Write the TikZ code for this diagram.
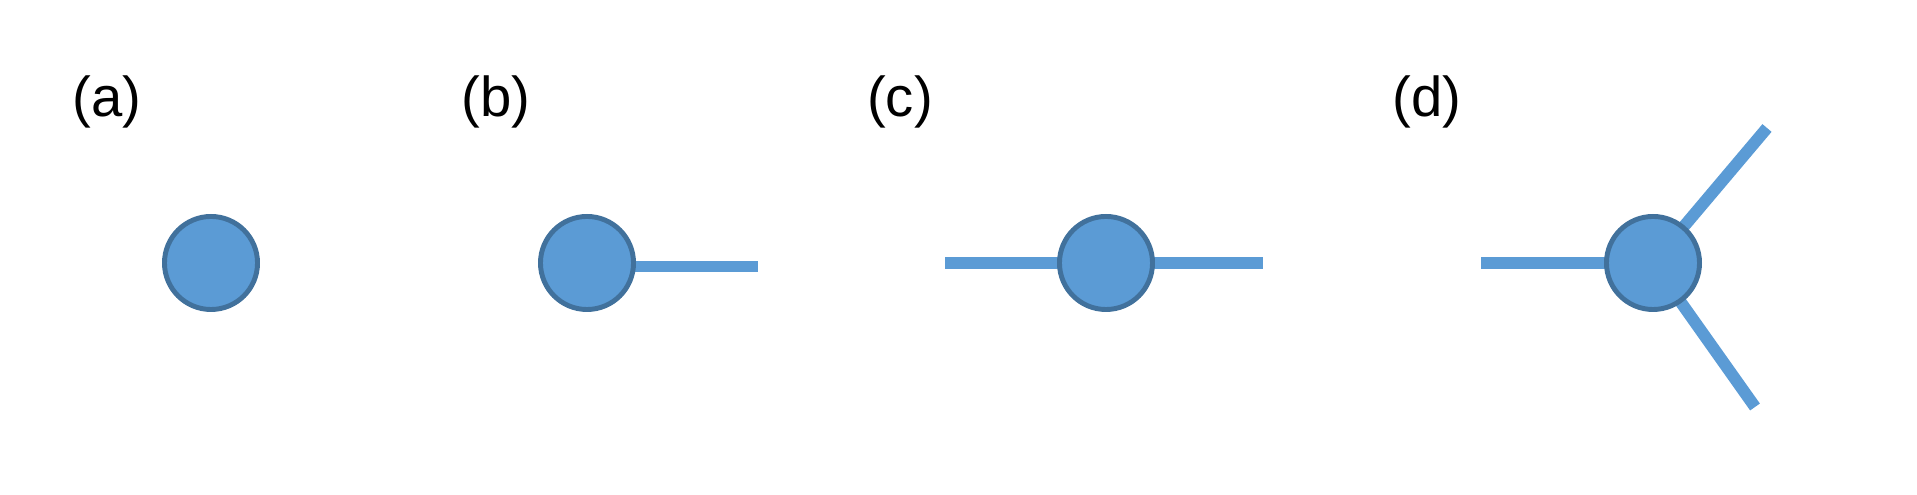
\documentclass[tikz,border=0pt]{standalone}
\usepackage{fontspec}
\setmainfont{Liberation Sans}
\usepackage{xcolor}
\definecolor{vertexfill}{HTML}{5B9BD5}
\definecolor{vertexedge}{HTML}{41719C}
\usetikzlibrary{positioning,calc,backgrounds}

\begin{document}
\begin{tikzpicture}[x=0.01cm, y=0.01cm,
    vertex/.style={circle, fill=vertexfill, draw=vertexedge, line width=1.4pt, minimum size=0.93cm, inner sep=0pt},
    leg/.style={vertexfill, line width=3.4pt},
    tag/.style={font=\fontsize{16}{19}\selectfont, text=black}]
        \useasboundingbox (0,0) rectangle (1917,495);
        \node[tag] (taga) at (107,393) {(a)};
        \node[tag] (tagb) at (496,393) {(b)};
        \node[tag] (tagc) at (900,393) {(c)};
        \node[tag] (tagd) at (1427,393) {(d)};
        \node[vertex] (va) at (211,232) {};
        \node[vertex] (vb) at (587,232) {};
        \node[vertex] (vc) at (1106,232) {};
        \node[vertex] (vd) at (1653,232) {};
        \coordinate (bright) at (758,228.5);
        \coordinate (cleft) at (945,232);
        \coordinate (cright) at (1263,232);
        \coordinate (dleft) at (1481,232);
        \coordinate (dup) at (1767,367);
        \coordinate (ddown) at (1755,88);
        \begin{scope}[on background layer]
          \draw[leg] (vb.center |- bright) -- (bright);
          \draw[leg] (vc.center) -- (cleft);
          \draw[leg] (vc.center) -- (cright);
          \draw[leg] (vd.center) -- (dleft);
          \draw[leg] (vd.center) -- (dup);
          \draw[leg] (vd.center) -- (ddown);
        \end{scope}
      \end{tikzpicture}
\end{document}
